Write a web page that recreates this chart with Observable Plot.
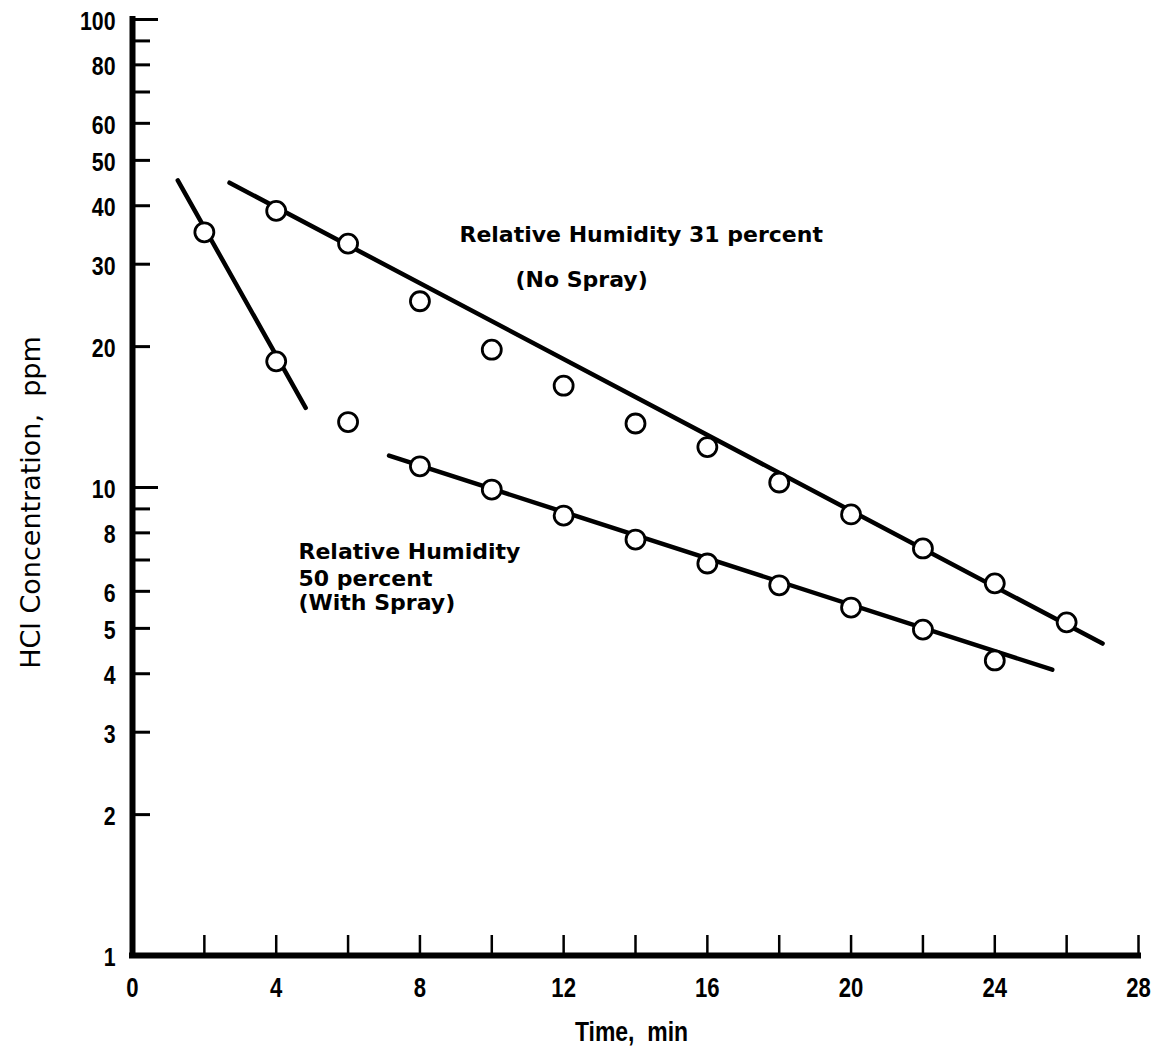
<!DOCTYPE html>
<html>
<head>
<meta charset="utf-8">
<script src="https://cdn.jsdelivr.net/npm/d3@7"></script>
<script src="https://cdn.jsdelivr.net/npm/@observablehq/plot@0.6"></script>
<style>
  html, body { margin: 0; padding: 0; background: #fff; }
  #chart { width: 1165px; height: 1056px; }
</style>
</head>
<body>
<div id="chart"></div>
<script>
// ---- data ----
const noSprayTime = [4, 6, 8, 10, 12, 14, 16, 18, 20, 22, 24, 26];
const noSprayConc = [39, 33.2, 25, 19.7, 16.5, 13.7, 12.2, 10.25, 8.76, 7.41, 6.24, 5.15];

const sprayTime = [2, 4, 6, 8, 10, 12, 14, 16, 18, 20, 22, 24];
const sprayConc = [35.1, 18.6, 13.8, 11.1, 9.9, 8.71, 7.74, 6.88, 6.18, 5.54, 4.97, 4.27];

// hand-drawn fitted lines (time, ppm)
const noSprayFitTime = [2.7, 27.0];
const noSprayFitConc = [44.8, 4.64];
const sprayFastFitTime = [1.26, 4.82];
const sprayFastFitConc = [45.3, 14.8];
const spraySlowFitTime = [7.14, 25.6];
const spraySlowFitConc = [11.7, 4.08];

const xTickValues = [2, 4, 6, 8, 10, 12, 14, 16, 18, 20, 22, 24, 26, 28];
const xTickLabels = [0, 4, 8, 12, 16, 20, 24, 28];
const yMinorTicks = [2, 3, 4, 5, 6, 7, 8, 9, 20, 30, 40, 50, 60, 70, 80, 90];
const yMajorTicks = [10, 100];
const yTickLabels = [1, 2, 3, 4, 5, 6, 8, 10, 20, 30, 40, 50, 60, 80, 100];

const noteTexts = ["Relative Humidity 31 percent", "(No Spray)", "Relative Humidity", "50 percent", "(With Spray)"];
const noteTime = [9.1, 10.66, 4.62, 4.62, 4.62];
const noteConc = [33.5, 26.8, 7.05, 6.17, 5.46];

const xTitle = "Time,\u00a0\u00a0min";
const yTitle = "HCl Concentration,\u00a0\u00a0ppm";

// ---- build tables ----
const zip = (xs, ys) => xs.map((t, i) => ({t, c: ys[i]}));
const noSpray = zip(noSprayTime, noSprayConc);
const spray = zip(sprayTime, sprayConc);
const fitA = zip(noSprayFitTime, noSprayFitConc);
const fitB = zip(sprayFastFitTime, sprayFastFitConc);
const fitC = zip(spraySlowFitTime, spraySlowFitConc);
const notes = noteTexts.map((s, i) => ({s, t: noteTime[i], c: noteConc[i]}));

const W = 1165, H = 1056;
const mL = 132, mR = 27, mT = 19, mB = 101;
const fw = W - mL - mR, fh = H - mT - mB;

const tickFont = "Liberation Sans";
const textFont = "DejaVu Sans";

const lineStyle = {x: "t", y: "c", stroke: "black", strokeWidth: 4.5, strokeLinecap: "round"};

const chart = Plot.plot({
  width: W, height: H,
  marginLeft: mL, marginRight: mR, marginTop: mT, marginBottom: mB,
  x: {domain: [0, 28], axis: null},
  y: {type: "log", domain: [1, 100], axis: null},
  style: {background: "white", color: "black", overflow: "visible"},
  marks: [
    // axis lines
    Plot.ruleX([0], {y1: 1, y2: 100, stroke: "black", strokeWidth: 6, strokeLinecap: "square"}),
    Plot.ruleY([1], {x1: 0, x2: 28, stroke: "black", strokeWidth: 6, strokeLinecap: "square"}),
    // ticks
    Plot.tickY(yMinorTicks, {y: d => d, insetRight: fw - 18, stroke: "black", strokeWidth: 3}),
    Plot.tickY(yMajorTicks, {y: d => d, insetRight: fw - 26, stroke: "black", strokeWidth: 3}),
    Plot.tickX(xTickValues, {x: d => d, insetTop: fh - 20, stroke: "black", strokeWidth: 2.5}),
    // tick labels
    Plot.text(yTickLabels, {y: d => d, text: d => String(d), frameAnchor: "left", textAnchor: "end",
      dx: -17, dy: 2, fontSize: 26, fontWeight: "bold", fontFamily: tickFont, fill: "black"}),
    Plot.text(xTickLabels, {x: d => d, text: d => String(d), frameAnchor: "bottom", lineAnchor: "bottom",
      dy: 41, fontSize: 27, fontWeight: "bold", fontFamily: tickFont, fill: "black"}),
    // axis titles
    Plot.text([xTitle], {text: d => d, frameAnchor: "bottom", textAnchor: "middle", lineAnchor: "bottom", dx: -4, dy: 85,
      fontSize: 28, fontWeight: "bold", fontFamily: tickFont, fill: "black"}),
    Plot.text([yTitle], {text: d => d, frameAnchor: "left", textAnchor: "middle", rotate: -90, dx: -101, dy: 15,
      fontSize: 27, fontFamily: textFont, fill: "black"}),
    // fitted lines
    Plot.line(fitA, lineStyle),
    Plot.line(fitB, lineStyle),
    Plot.line(fitC, lineStyle),
    // data points
    Plot.dot(noSpray, {x: "t", y: "c", r: 9.5, fill: "white", stroke: "black", strokeWidth: 2.8}),
    Plot.dot(spray, {x: "t", y: "c", r: 9.5, fill: "white", stroke: "black", strokeWidth: 2.8}),
    // annotations
    Plot.text(notes, {x: "t", y: "c", text: "s", textAnchor: "start", lineAnchor: "bottom",
      fontSize: 22, fontWeight: "bold", fontFamily: textFont, fill: "black"})
  ]
});

const root = d3.select(chart);
// condense the tick-label / x-title glyphs horizontally
root.selectAll("g[font-family='Liberation Sans'] text").each(function() {
  const el = d3.select(this);
  const tr = el.attr("transform") || "";
  el.attr("transform", `${tr} scale(0.82,1)`);
});
document.getElementById("chart").appendChild(chart);
</script>
</body>
</html>
